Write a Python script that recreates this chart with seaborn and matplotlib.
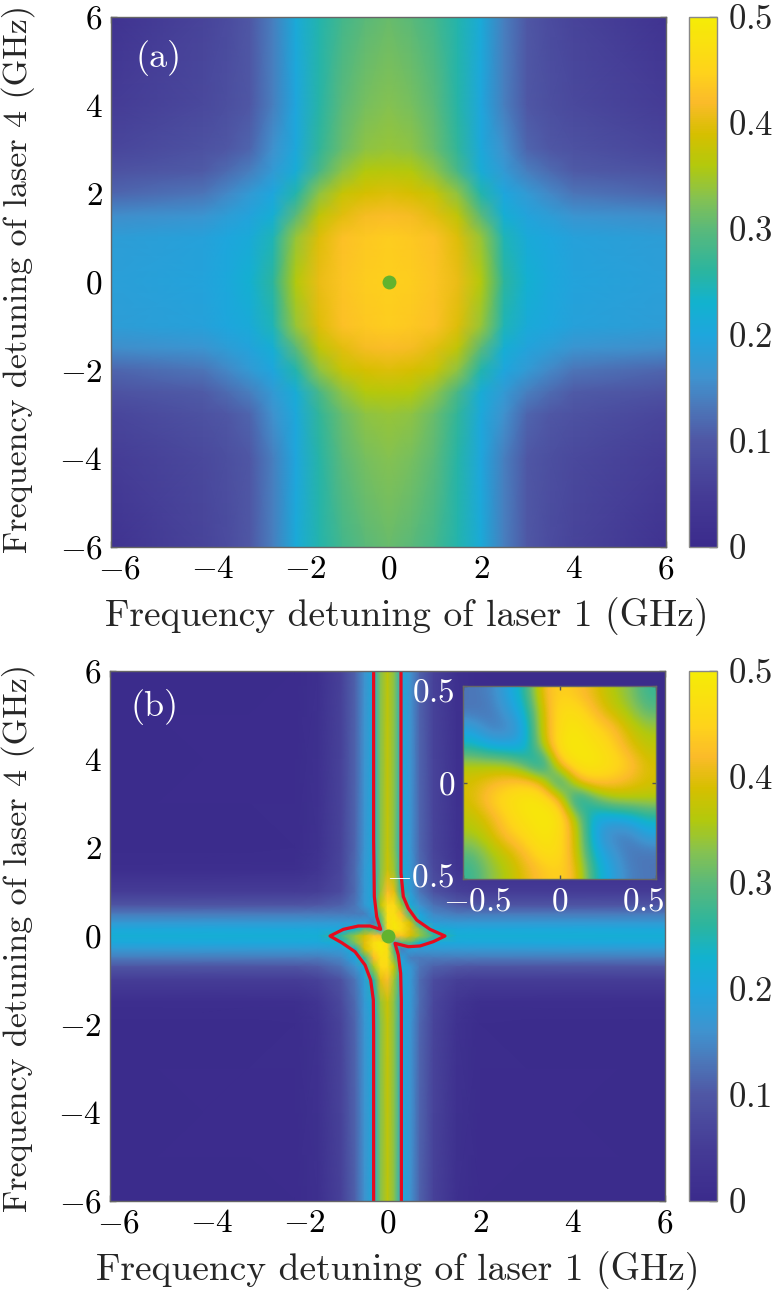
import numpy as np
import matplotlib
matplotlib.use("Agg")
import matplotlib.pyplot as plt
from matplotlib.colors import LinearSegmentedColormap
from matplotlib.transforms import ScaledTranslation
import seaborn as sns

# ---------- data ----------
a_x = [-6, -4, -3.5, -3, -2.5, -2, -1.5, -1, -0.5, 0, 0.5, 1, 1.5, 2, 2.5, 3, 3.5, 4, 6]
a_y = [6, 4, 3, 2.5, 2, 1.5, 1, 0, -1, -1.5, -2, -2.5, -3, -4, -6]
a_z = [
 [.025,.065,.08,.10,.14,.21,.25,.28,.30,.31,.30,.28,.25,.21,.14,.10,.08,.065,.025],
 [.05,.075,.085,.10,.14,.20,.255,.30,.32,.33,.32,.30,.255,.20,.14,.10,.085,.075,.05],
 [.07,.09,.10,.115,.16,.205,.265,.31,.335,.34,.335,.31,.265,.205,.16,.115,.10,.09,.07],
 [.09,.105,.12,.14,.175,.215,.285,.335,.36,.365,.36,.335,.285,.215,.175,.14,.12,.105,.09],
 [.115,.13,.15,.175,.20,.25,.335,.375,.39,.395,.39,.375,.335,.25,.20,.175,.15,.13,.115],
 [.155,.165,.18,.195,.22,.30,.37,.40,.415,.42,.415,.40,.37,.30,.22,.195,.18,.165,.155],
 [.18,.19,.20,.21,.245,.34,.395,.425,.435,.44,.435,.425,.395,.34,.245,.21,.20,.19,.18],
 [.185,.195,.205,.225,.26,.36,.405,.43,.44,.445,.44,.43,.405,.36,.26,.225,.205,.195,.185],
 [.18,.19,.20,.21,.245,.34,.395,.425,.435,.44,.435,.425,.395,.34,.245,.21,.20,.19,.18],
 [.155,.165,.18,.195,.22,.30,.37,.40,.415,.42,.415,.40,.37,.30,.22,.195,.18,.165,.155],
 [.115,.13,.15,.175,.20,.25,.335,.375,.39,.395,.39,.375,.335,.25,.20,.175,.15,.13,.115],
 [.09,.105,.12,.14,.175,.215,.285,.335,.36,.365,.36,.335,.285,.215,.175,.14,.12,.105,.09],
 [.07,.09,.10,.115,.16,.205,.265,.31,.335,.34,.335,.31,.265,.205,.16,.115,.10,.09,.07],
 [.05,.075,.085,.10,.14,.20,.255,.30,.32,.33,.32,.30,.255,.20,.14,.10,.085,.075,.05],
 [.025,.065,.08,.10,.14,.21,.25,.28,.30,.31,.30,.28,.25,.21,.14,.10,.08,.065,.025],
]

b_x = [-6, -2, -1.5, -1, -.7, -.5, -.3, -.15, 0, .15, .3, .5, .7, 1, 1.5, 2, 6]
b_y = [6, 2, 1.5, 1, .7, .5, .3, .15, 0, -.15, -.3, -.5, -.7, -1, -1.5, -2, -6]
b_z = [
 [.002,.004,.015,.06,.11,.16,.21,.33,.37,.33,.21,.16,.11,.06,.015,.004,.002],
 [.003,.006,.02,.065,.115,.165,.21,.33,.375,.33,.21,.165,.115,.065,.02,.006,.003],
 [.008,.012,.03,.07,.12,.17,.21,.33,.38,.34,.22,.17,.12,.075,.03,.012,.008],
 [.05,.05,.055,.08,.12,.17,.21,.34,.42,.40,.25,.18,.13,.09,.06,.05,.05],
 [.095,.095,.10,.11,.13,.17,.21,.37,.46,.46,.35,.21,.16,.125,.105,.095,.095],
 [.135,.135,.135,.135,.135,.14,.19,.32,.47,.47,.42,.27,.20,.15,.135,.135,.135],
 [.175,.175,.175,.175,.175,.18,.14,.28,.47,.49,.46,.39,.22,.18,.175,.175,.175],
 [.205,.205,.205,.205,.23,.30,.30,.20,.46,.49,.47,.40,.33,.22,.205,.205,.205],
 [.22,.22,.22,.27,.34,.39,.43,.42,.21,.42,.43,.39,.34,.27,.22,.22,.22],
 [.205,.205,.205,.22,.33,.40,.47,.49,.46,.20,.30,.30,.23,.205,.205,.205,.205],
 [.175,.175,.175,.18,.22,.39,.46,.49,.47,.28,.14,.18,.175,.175,.175,.175,.175],
 [.135,.135,.135,.15,.20,.27,.42,.47,.47,.32,.19,.14,.135,.135,.135,.135,.135],
 [.095,.095,.105,.125,.16,.21,.35,.46,.46,.37,.21,.17,.13,.11,.10,.095,.095],
 [.05,.05,.06,.09,.13,.18,.25,.40,.42,.34,.21,.17,.12,.08,.055,.05,.05],
 [.008,.012,.03,.075,.12,.17,.22,.34,.38,.33,.21,.17,.12,.07,.03,.012,.008],
 [.003,.006,.02,.065,.115,.165,.21,.33,.375,.33,.21,.165,.115,.065,.02,.006,.003],
 [.002,.004,.015,.06,.11,.16,.21,.33,.37,.33,.21,.16,.11,.06,.015,.004,.002],
]

inset_z = [
 [.13,.14,.19,.25,.41,.45,.43,.40,.36,.33,.27],
 [.13,.13,.17,.22,.38,.47,.47,.42,.38,.35,.30],
 [.19,.14,.14,.19,.38,.47,.49,.46,.43,.38,.35],
 [.25,.21,.20,.20,.35,.49,.49,.48,.45,.40,.37],
 [.36,.36,.35,.30,.19,.43,.49,.49,.47,.44,.39],
 [.39,.41,.43,.44,.41,.21,.41,.44,.43,.41,.39],
 [.39,.44,.47,.49,.49,.43,.19,.30,.35,.36,.36],
 [.37,.40,.45,.48,.49,.49,.35,.20,.20,.21,.25],
 [.35,.38,.43,.46,.49,.47,.38,.19,.14,.14,.19],
 [.30,.35,.38,.42,.47,.47,.38,.22,.17,.13,.13],
 [.27,.33,.36,.40,.43,.45,.41,.25,.19,.14,.13],
]

red_left_x = [-.30,-.30,-.292,-.285,-.234,-.148,-.378,-.631,-.955,-1.243,-.991,-.703,-.486,-.364,-.306,-.30,-.30]
red_left_y = [6,2.17,1.494,.891,.438,.151,.226,.226,.151,0,-.151,-.355,-.657,-.996,-1.449,-2.13,-6]
red_right_x = [.292,.292,.292,.342,.45,.631,.919,1.243,.991,.703,.45,.162,.234,.285,.299,.30,.30]
red_right_y = [6,2.17,1.419,.891,.626,.362,.151,0,-.128,-.226,-.242,-.166,-.43,-.845,-1.449,-2.13,-6]

dot_x = [0]
dot_y = [0]

main_ticks = [-6, -4, -2, 0, 2, 4, 6]
main_ticklabels = ['$-6$', '$-4$', '$-2$', '$0$', '$2$', '$4$', '$6$']
cbar_ticks = [0, .1, .2, .3, .4, .5]
cbar_ticklabels = ['$0$', '$0.1$', '$0.2$', '$0.3$', '$0.4$', '$0.5$']
inset_ticks = [-.5, 0, .5]
inset_ticklabels = ['$-0.5$', '$0$', '$0.5$']
xlabel_text = 'Frequency detuning of laser 1 (GHz)'
ylabel_text = 'Frequency detuning of laser 4 (GHz)'

cmap_stops = [(0, '#3b2b8c'), (.05, '#453c96'), (.10, '#4f57a5'), (.13, '#4c76b8'),
              (.16, '#3f93cf'), (.20, '#1ea6dd'), (.23, '#12b2cf'), (.26, '#2bb59f'),
              (.30, '#5ab97a'), (.33, '#86c250'), (.36, '#b3c90c'), (.39, '#d6bf00'),
              (.42, '#fbbb2a'), (.45, '#fed41a'), (.50, '#f5ec06')]

# ---------- styling ----------
sns.set_theme(style='ticks')
plt.rcParams['font.family'] = ['cmr10', 'DejaVu Sans']
plt.rcParams['mathtext.fontset'] = 'cm'
plt.rcParams['axes.formatter.use_mathtext'] = True
GREY = '#666666'
W, H = 776, 1290
fig = plt.figure(figsize=(W / 100, H / 100), dpi=100)
cmap = LinearSegmentedColormap.from_list('parula_print', [(v / .5, c) for v, c in cmap_stops], N=256)

def px_axes(l, t, r, b):
    return fig.add_axes([l / W, 1 - b / H, (r - l) / W, (b - t) / H])

def shift(label, dx, dy):
    label.set_transform(label.get_transform() + ScaledTranslation(dx / 100, -dy / 100, fig.dpi_scale_trans))

def style(ax, ticks, labels, size, tickcolor='black', tl=4):
    ax.set_xticks(ticks, labels)
    ax.set_yticks(ticks, labels)
    ax.tick_params(axis='both', direction='in', top=True, right=True, length=tl, width=1,
                   color='#555555', labelsize=size, labelcolor=tickcolor, pad=6)
    for s in ax.spines.values():
        s.set_color(GREY)
        s.set_linewidth(1.0)
        s.set_visible(True)
        s.set_zorder(5)

def mesh(ax, x, y, z):
    ax.pcolormesh(np.array(x), np.array(y), np.array(z), cmap=cmap, vmin=0, vmax=.5,
                  shading='gouraud', rasterized=True)

def add_cbar(t, b):
    cax = px_axes(689, t, 717, b)
    sm = plt.cm.ScalarMappable(norm=plt.Normalize(0, .5), cmap=cmap)
    cb = fig.colorbar(sm, cax=cax)
    cb.set_ticks(cbar_ticks, labels=cbar_ticklabels)
    cb.ax.tick_params(direction='in', length=6, width=1, color='#555555', labelsize=25, pad=8, right=True)
    cb.outline.set_edgecolor('#888888')
    cb.outline.set_linewidth(1.0)

def panel(l, t, r, b, x, y, z, tag, tagpos, xlabel_y, xlabel_cx, ylabel_x, ylabel_cy):
    ax = px_axes(l, t, r, b)
    mesh(ax, x, y, z)
    ax.set_xlim(-6, 6)
    ax.set_ylim(-6, 6)
    style(ax, main_ticks, main_ticklabels, 24)
    for lab in ax.get_xticklabels()[:3]:
        shift(lab, 9, 0)
    ax.text(tagpos[0], tagpos[1], tag, color='white', fontsize=26, ha='center', va='center')
    fig.text(xlabel_cx / W, 1 - xlabel_y / H, xlabel_text, fontsize=27, ha='center', va='center')
    fig.text(ylabel_x / W, 1 - ylabel_cy / H, ylabel_text, fontsize=24.5, rotation=90, ha='center', va='center')
    return ax

# panel (a)
ax_a = panel(111, 16.7, 666, 547, a_x, a_y, a_z, '(a)', (-4.97, 5.07), 617, 407, 18, 279)
sns.scatterplot(x=dot_x, y=dot_y, ax=ax_a, color='#62b32e', s=100, linewidth=0, zorder=4, legend=False)
ax_a.set_xlabel('')
ax_a.set_ylabel('')
add_cbar(16.7, 547)

# panel (b)
ax_b = panel(110, 671, 665, 1201, b_x, b_y, b_z, '(b)', (-5.04, 5.18), 1271, 398, 18, 938)
for rx, ry in ((red_left_x, red_left_y), (red_right_x, red_right_y)):
    sns.lineplot(x=rx, y=ry, ax=ax_b, sort=False, estimator=None, color='#e60b1e', linewidth=2.3,
                 zorder=3, legend=False)
sns.scatterplot(x=dot_x, y=dot_y, ax=ax_b, color='#62b32e', s=100, linewidth=0, zorder=4, legend=False)
ax_b.set_xlim(-6, 6)
ax_b.set_ylim(-6, 6)
ax_b.set_xlabel('')
ax_b.set_ylabel('')
add_cbar(671, 1201)

# inset
ax_i = px_axes(463.3, 685.7, 655.7, 879.3)
ax_i.imshow(np.array(inset_z), extent=(-.5, .5, -.5, .5), cmap=cmap, vmin=0, vmax=.5, aspect='auto',
            interpolation='bicubic', interpolation_stage='data')
ax_i.set_xlim(-.5, .5)
ax_i.set_ylim(-.5, .5)
style(ax_i, inset_ticks, inset_ticklabels, 24, tickcolor='white', tl=3)
xl = ax_i.get_xticklabels()
shift(xl[0], 14, 0)
shift(xl[2], -12, 0)
yl = ax_i.get_yticklabels()
shift(yl[0], 0, -4)
shift(yl[2], 0, 4)
ax_i.set_zorder(6)

fig.savefig('out.png', dpi=100)
